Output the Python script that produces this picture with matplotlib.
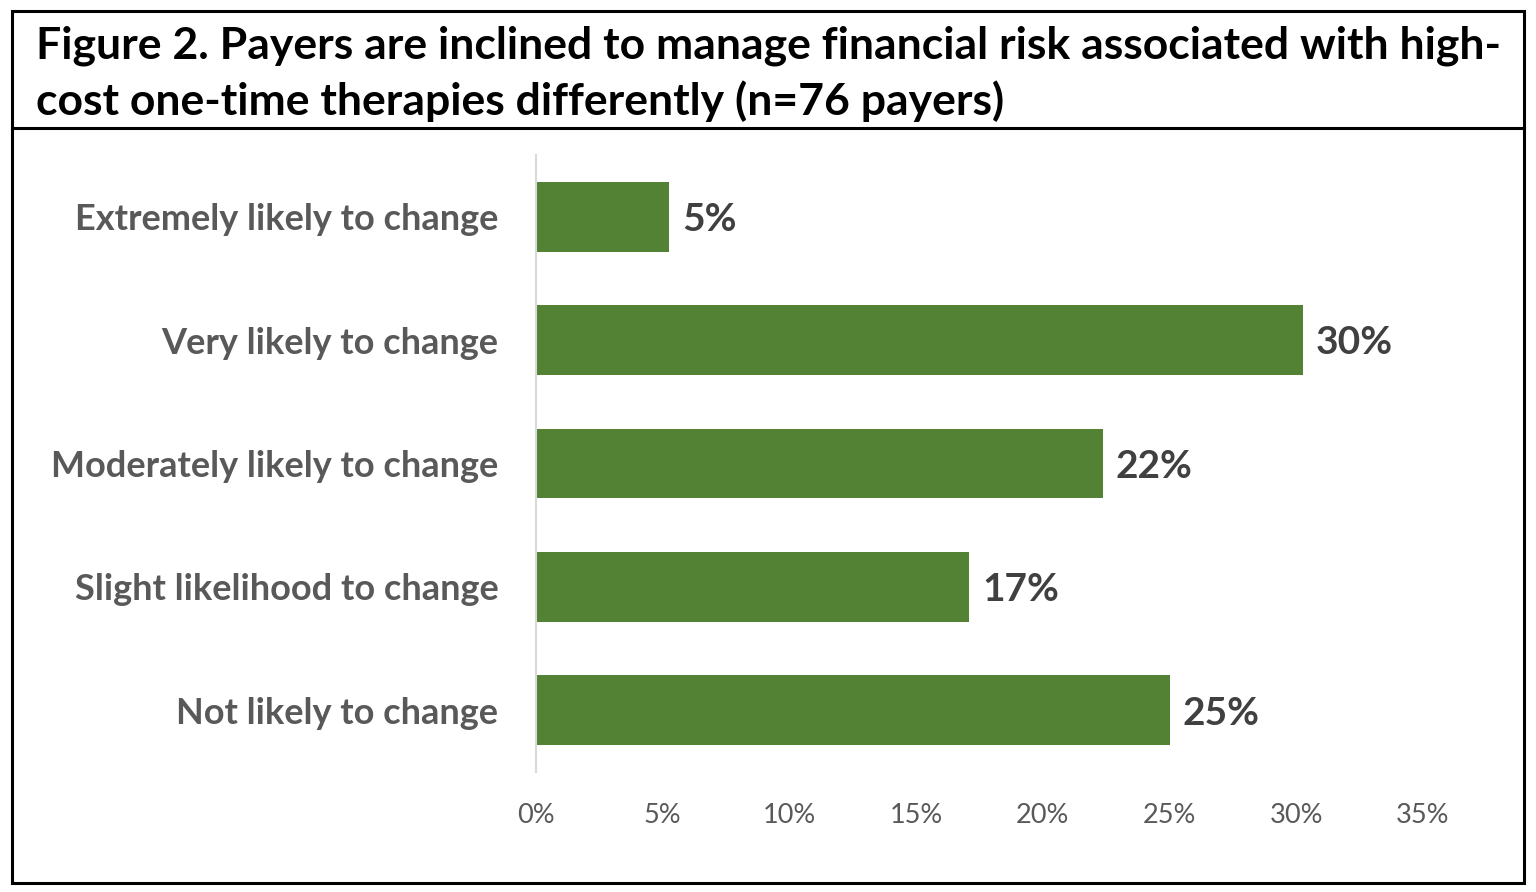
import matplotlib
matplotlib.use("Agg")
import matplotlib.pyplot as plt
from matplotlib.patches import Rectangle
from matplotlib.lines import Line2D

# datos de la encuesta (n=76 pagadores)
categorias = ["Extremely likely to change", "Very likely to change",
              "Moderately likely to change", "Slight likelihood to change",
              "Not likely to change"]
conteos = [4, 23, 17, 13, 19]
total = 76
etiquetas = ["5%", "30%", "22%", "17%", "25%"]
ticks = [0, 0.05, 0.10, 0.15, 0.20, 0.25, 0.30, 0.35]
tick_labels = ["0%", "5%", "10%", "15%", "20%", "25%", "30%", "35%"]
titulo = ("Figure 2. Payers are inclined to manage financial risk associated with high-\n"
          "cost one-time therapies differently (n=76 payers)")

valores = [c / total for c in conteos]

plt.rcParams['font.family'] = ['Lato', 'DejaVu Sans']

W, H = 1536, 892
fig = plt.figure(figsize=(W / 100, H / 100), dpi=100)

# marco exterior y linea bajo el titulo
fig.patches.append(Rectangle((12 / W, 1 - 883 / H), (1524 - 12) / W, (883 - 11) / H,
                             transform=fig.transFigure, fill=False, ec="black", lw=2.2))
fig.lines.append(Line2D([12 / W, 1524 / W], [1 - 128 / H, 1 - 128 / H],
                        transform=fig.transFigure, color="black", lw=2.2))

fig.text(36 / W, 1 - 58 / H, titulo.split("\n")[0], ha="left", va="baseline",
         fontsize=32, fontweight="bold", color="black")
fig.text(36 / W, 1 - 115 / H, titulo.split("\n")[1], ha="left", va="baseline",
         fontsize=32, fontweight="bold", color="black")

ax = fig.add_axes([536 / W, 1 - 772 / H, (1423 - 536) / W, (772 - 155) / H])
pos = list(range(len(categorias)))
ax.barh(pos, valores, height=0.565, color="#548235")
ax.set_ylim(len(categorias) - 0.5, -0.5)
ax.set_xlim(0, 0.35)
ax.set_xticks(ticks)
ax.set_xticklabels(tick_labels, fontsize=19.5, color="#595959")
ax.set_yticks(pos)
ax.set_yticklabels(categorias, fontsize=26, fontweight="bold", color="#595959")
ax.tick_params(axis="both", length=0)
ax.tick_params(axis="x", pad=22)
ax.tick_params(axis="y", pad=27)
for s in ["top", "right", "bottom"]:
    ax.spines[s].set_visible(False)
ax.spines["left"].set_color("#D9D9D9")
ax.spines["left"].set_linewidth(1.5)

for p, v, e in zip(pos, valores, etiquetas):
    ax.annotate(e, (v, p), xytext=(9, -2), textcoords="offset points",
                ha="left", va="center", fontsize=28, fontweight="bold", color="#404040")

fig.savefig("out.png", dpi=100)
